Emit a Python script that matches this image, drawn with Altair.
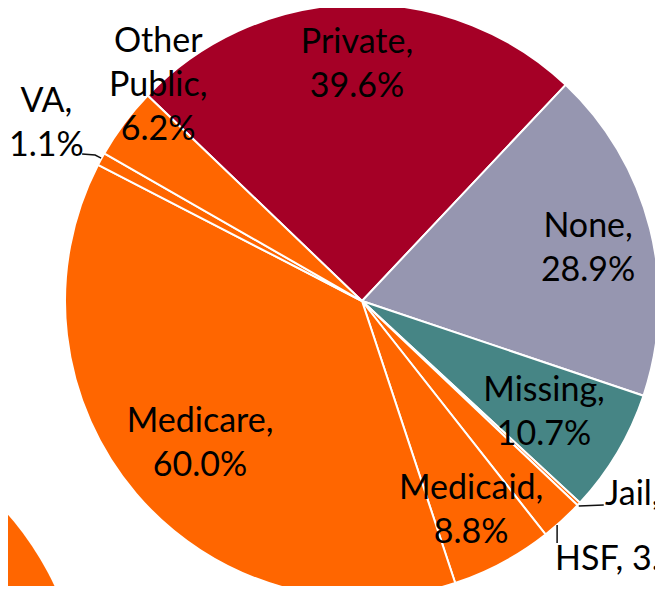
import math
import altair as alt
import pandas as pd

# ---------------- data ----------------
categories = ["Private", "None", "Missing", "Jail", "HSF", "Medicaid", "Medicare", "VA", "Other Public"]
values = [39.6, 28.9, 10.7, 0.3, 3.7, 8.8, 60.0, 1.1, 6.2]
label_texts = ["Private,\n39.6%", "None,\n28.9%", "Missing,\n10.7%", "Jail, 0.3%", "HSF, 3.7%",
               "Medicaid,\n8.8%", "Medicare,\n60.0%", "VA,\n1.1%", "Other\nPublic,\n6.2%"]
slice_colors = ["#A50026", "#9696B0", "#468585", "#FF6600", "#FF6600",
                "#FF6600", "#FF6600", "#FF6600", "#FF6600"]

# a neighbouring pie, only partly visible at lower left
other_pie_categories = ["Medicare"]
other_pie_values = [1.0]

# ---------------- layout ----------------
W, H = 647, 578
CX, CY = 354, 293          # pie centre inside the plot area
R = 297
START_DEG = -46.2
OTHER_CX, OTHER_CY, OTHER_R = -234, 710, 310
FONT = "Lato"
FS = 34
LH = 44

# label placement: angular nudge (deg) from slice mid-angle, radius (px), alignment
label_nudge = {"Private": 0.24, "None": 1.1, "Missing": 1.0, "Jail": -4.52, "HSF": 5.66,
               "Medicaid": 0.8, "Medicare": -0.94, "VA": 0.77, "Other Public": 9.7}
label_radius = {"Private": 236, "None": 232, "Missing": 214, "Jail": 311, "HSF": 323,
                "Medicaid": 237, "Medicare": 216, "VA": 362, "Other Public": 296}
left_aligned = {"Jail", "HSF"}
# leader lines: offsets (px) from the slice's outer edge at its mid-angle
leader_offsets = {"VA": [(0, -1), (-6, -4), (-19, -5)],
                  "Jail": [(0, 2), (25, 1)],
                  "HSF": [(-5, 4.5), (-5, 22.5)]}

total = sum(values)
k = 360.0 / total
start_rad = math.radians(START_DEG)
theta_scale = alt.Scale(domain=[0, total], range=[start_rad, start_rad + 2 * math.pi])
color_scale = alt.Scale(domain=categories, range=slice_colors)

cum = []
acc = 0.0
for v in values:
    cum.append(acc)
    acc += v

df = pd.DataFrame({"cat": categories, "value": values, "idx": list(range(len(categories)))})

lab_rows = []
for i, c in enumerate(categories):
    mid = cum[i] + values[i] / 2.0
    lab_rows.append({"cat": c, "text": label_texts[i],
                     "t": mid + label_nudge[c] / k, "r": label_radius[c],
                     "left": c in left_aligned,
                     "lines": label_texts[i].count("\n") + 1})
lab_df = pd.DataFrame(lab_rows)


def polar(angle_deg, r):
    a = math.radians(angle_deg)
    return CX + r * math.sin(a), CY - r * math.cos(a)


lead_rows = []
for i, c in enumerate(categories):
    if c not in leader_offsets:
        continue
    mid_deg = START_DEG + (cum[i] + values[i] / 2.0) * k
    ex, ey = polar(mid_deg, R)
    for j, (ox, oy) in enumerate(leader_offsets[c]):
        lead_rows.append({"cat": c, "o": j, "px": ex + ox, "py": ey + oy})
lead_df = pd.DataFrame(lead_rows)

other_df = pd.DataFrame({"cat": other_pie_categories, "value": other_pie_values})

# ---------------- chart ----------------
other_pie = alt.Chart(other_df).mark_arc(
    outerRadius=OTHER_R, theta=0, theta2=2 * math.pi
).encode(
    x=alt.value(OTHER_CX), y=alt.value(OTHER_CY),
    color=alt.Color("cat:N", scale=color_scale, legend=None),
)

pie = alt.Chart(df).mark_arc(outerRadius=R, stroke="white", strokeWidth=2).encode(
    x=alt.value(CX), y=alt.value(CY),
    theta=alt.Theta("value:Q", stack=True, scale=theta_scale),
    color=alt.Color("cat:N", scale=color_scale, legend=None),
    order=alt.Order("idx:Q"),
)

text_layers = []
for n in sorted(lab_df.loc[~lab_df["left"], "lines"].unique()):
    sub = lab_df[(~lab_df["left"]) & (lab_df["lines"] == n)]
    text_layers.append(
        alt.Chart(sub).mark_text(
            font=FONT, fontSize=FS, lineHeight=LH, lineBreak="\n", color="#000000",
            align="center", baseline="middle", dy=-(int(n) - 1) * LH / 2.0,
        ).encode(
            x=alt.value(CX), y=alt.value(CY),
            theta=alt.Theta("t:Q", stack=None, scale=theta_scale),
            radius=alt.Radius("r:Q", scale=None),
            text="text:N",
        )
    )

text_left = alt.Chart(lab_df[lab_df["left"]]).mark_text(
    font=FONT, fontSize=FS, color="#000000", align="left", baseline="middle",
).encode(
    x=alt.value(CX), y=alt.value(CY),
    theta=alt.Theta("t:Q", stack=None, scale=theta_scale),
    radius=alt.Radius("r:Q", scale=None),
    text="text:N",
)

leaders = alt.Chart(lead_df).mark_line(color="#111111", strokeWidth=1.5).encode(
    x=alt.X("px:Q", scale=None, axis=None),
    y=alt.Y("py:Q", scale=None, axis=None),
    detail="cat:N",
    order="o:Q",
)

chart = alt.layer(other_pie, pie, leaders, *text_layers, text_left).properties(
    width=W, height=H, autosize=alt.AutoSizeParams(type="none"), padding=0,
).configure_view(stroke=None)

chart.save("out.html", embed_options={"renderer": "svg", "actions": False})
